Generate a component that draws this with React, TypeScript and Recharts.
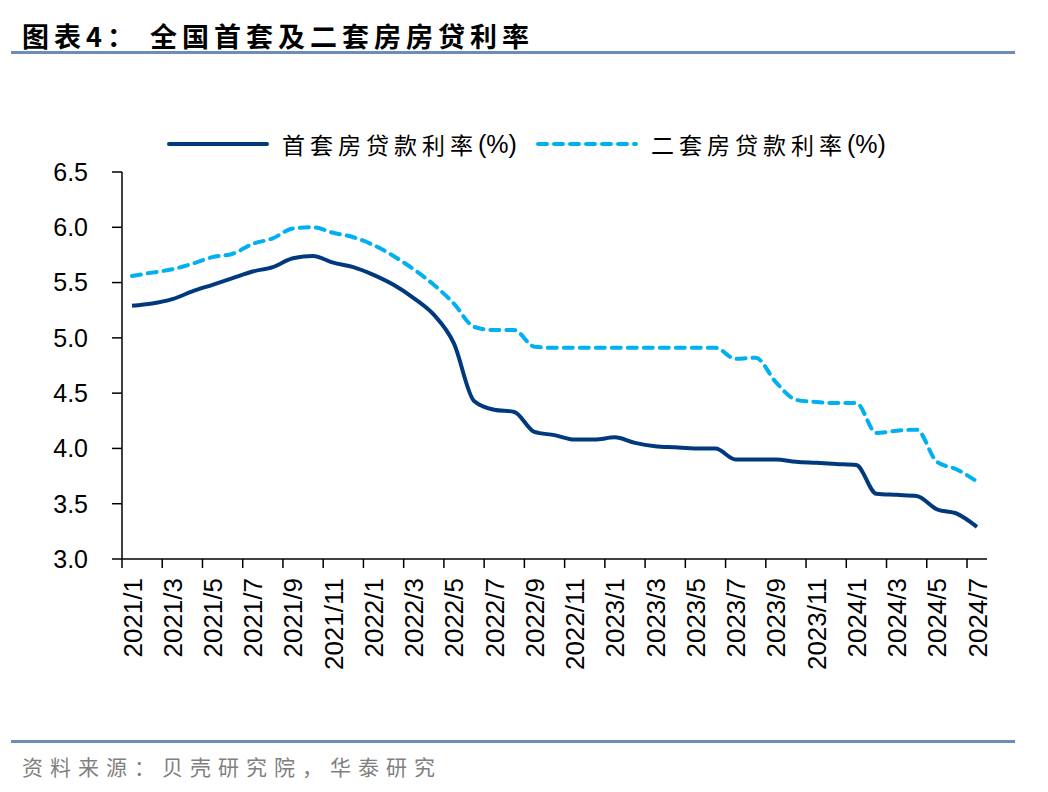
import React from 'react';
import { LineChart, Line, XAxis, YAxis } from 'recharts';

const months = [
  '2021/1', '2021/2', '2021/3', '2021/4', '2021/5', '2021/6', '2021/7', '2021/8', '2021/9', '2021/10', '2021/11', '2021/12',
  '2022/1', '2022/2', '2022/3', '2022/4', '2022/5', '2022/6', '2022/7', '2022/8', '2022/9', '2022/10', '2022/11', '2022/12',
  '2023/1', '2023/2', '2023/3', '2023/4', '2023/5', '2023/6', '2023/7', '2023/8', '2023/9', '2023/10', '2023/11', '2023/12',
  '2024/1', '2024/2', '2024/3', '2024/4', '2024/5', '2024/6', '2024/7'
];

const firstHome = [
  5.29, 5.31, 5.35, 5.42, 5.48, 5.54, 5.60, 5.64, 5.72, 5.74, 5.68, 5.64,
  5.57, 5.48, 5.36, 5.21, 4.95, 4.43, 4.35, 4.33, 4.15, 4.12, 4.08, 4.08,
  4.10, 4.05, 4.02, 4.01, 4.00, 4.00, 3.90, 3.90, 3.90, 3.88, 3.87, 3.86,
  3.85, 3.59, 3.58, 3.57, 3.45, 3.41, 3.29
];

const secondHome = [
  5.56, 5.59, 5.62, 5.67, 5.73, 5.76, 5.85, 5.90, 5.99, 6.00, 5.95, 5.91,
  5.84, 5.74, 5.62, 5.48, 5.31, 5.10, 5.07, 5.07, 4.92, 4.91, 4.91, 4.91,
  4.91, 4.91, 4.91, 4.91, 4.91, 4.91, 4.81, 4.82, 4.60, 4.44, 4.42, 4.41,
  4.41, 4.14, 4.16, 4.17, 3.88, 3.81, 3.70
];

const yTicks = [3.0, 3.5, 4.0, 4.5, 5.0, 5.5, 6.0, 6.5];

const seriesNames = ['首套房贷款利率', '二套房贷款利率'];

const data = months.map((m, i) => ({ month: m, first: firstHome[i], second: secondHome[i] }));

const FONT = '"Liberation Sans", Arial, sans-serif';
const CJK = '"Noto Sans CJK SC", sans-serif';
const NAVY = '#003a7d';
const SKY = '#00b0f0';

// month band is ~20px, ticks sit on the band edge left of each labelled month
const XTick = (props: any) => {
  const { x, y, payload } = props;
  return (
    <g>
      <line x1={x - 10} x2={x - 10} y1={y} y2={y + 9} stroke="#000" strokeWidth={1.5} />
      <text
        transform={`translate(${x + 9.5},${y + 19}) rotate(-90)`}
        textAnchor="end"
        fontSize={26}
        fontFamily={FONT}
        fill="#000"
      >
        {payload.value}
      </text>
    </g>
  );
};

const LegendItem = ({ color, dashed, label }: { color: string; dashed?: boolean; label: string }) => (
  <div style={{ display: 'flex', alignItems: 'center' }}>
    <svg width={104} height={10} style={{ marginRight: 12 }}>
      <line
        x1={3}
        x2={101}
        y1={5}
        y2={5}
        stroke={color}
        strokeWidth={4}
        strokeLinecap="round"
        strokeDasharray={dashed ? '9 7' : undefined}
      />
    </svg>
    <span style={{ letterSpacing: 5, fontFamily: CJK, fontSize: 23 }}>{label}</span>
    <span style={{ fontFamily: FONT, fontSize: 25 }}>(%)</span>
  </div>
);

export default function App() {
  return (
    <div style={{ position: 'absolute', left: 0, top: 0, width: 1048, height: 792, background: '#fff' }}>
      <div style={{ position: 'absolute', left: 22, top: 16, fontFamily: CJK, fontWeight: 700, fontSize: 27, letterSpacing: 5, color: '#000', whiteSpace: 'pre' }}>
        {'图表4： 全国首套及二套房房贷利率'}
      </div>
      <div style={{ position: 'absolute', left: 11, top: 51, width: 1004, height: 3, background: '#6d8cb8' }} />

      <div style={{ position: 'absolute', left: 166, top: 127, display: 'flex', gap: 18, color: '#000' }}>
        <LegendItem color={NAVY} label={seriesNames[0]} />
        <LegendItem color={SKY} dashed label={seriesNames[1]} />
      </div>

      <div style={{ position: 'absolute', left: 0, top: 0 }}>
        <LineChart width={1048} height={792} data={data} margin={{ top: 172, right: 61, bottom: 133, left: 62 }}>
          <XAxis
            dataKey="month"
            interval={1}
            padding={{ left: 10, right: 10 }}
            tick={<XTick />}
            tickLine={false}
            tickSize={0}
            tickMargin={0}
            height={100}
            axisLine={{ stroke: '#000', strokeWidth: 1.5 }}
          />
          <YAxis
            domain={[3, 6.5]}
            ticks={yTicks}
            width={60}
            tickFormatter={(v: number) => v.toFixed(1)}
            tickSize={10}
            tickMargin={24}
            tick={{ fontSize: 25, fontFamily: FONT, fill: '#000' }}
            tickLine={{ stroke: '#000', strokeWidth: 1.5 }}
            axisLine={{ stroke: '#000', strokeWidth: 1.5 }}
          />
          <Line
            type="monotone"
            dataKey="first"
            name={seriesNames[0]}
            stroke={NAVY}
            strokeWidth={4}
            dot={false}
            isAnimationActive={false}
          />
          <Line
            type="monotone"
            dataKey="second"
            name={seriesNames[1]}
            stroke={SKY}
            strokeWidth={4}
            strokeDasharray="9 7"
            strokeLinecap="round"
            dot={false}
            isAnimationActive={false}
          />
        </LineChart>
      </div>

      <div style={{ position: 'absolute', left: 11, top: 740, width: 1004, height: 3, background: '#6d8cb8' }} />
      <div style={{ position: 'absolute', left: 22, top: 751, fontFamily: CJK, fontSize: 21, letterSpacing: 7, color: '#7f7f7f' }}>
        资料来源：贝壳研究院，华泰研究
      </div>
    </div>
  );
}
